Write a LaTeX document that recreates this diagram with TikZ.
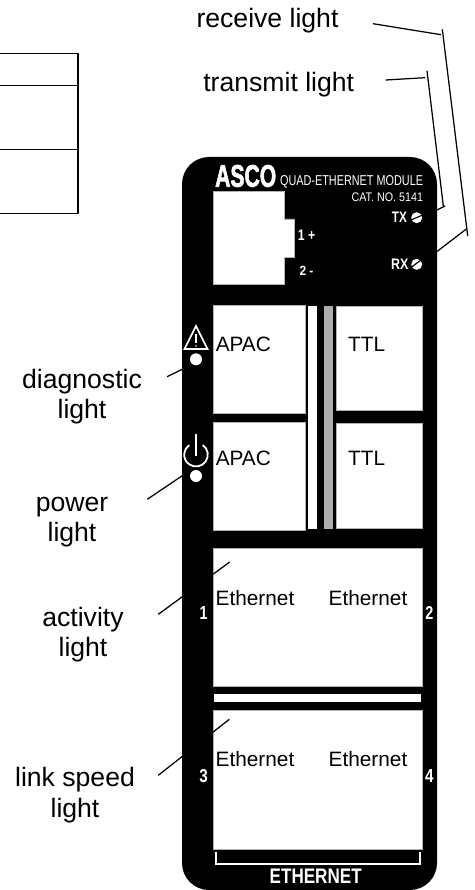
\documentclass[tikz,border=0pt]{standalone}
\usepackage{fontspec}
\usepackage{graphicx}
\setmainfont{Liberation Sans}
\newfontfamily\heavyfont[FakeBold=2.5]{Liberation Sans Bold}
\newcommand{\fitbox}[3]{\resizebox{#1pt}{#2pt}{#3}}
\tikzset{
  win/.style={fill=white,draw=gray!60,line width=0.5pt},
  leader/.style={draw=black,line width=1.25pt},
  rule/.style={draw=black,line width=1.3pt},
  callout/.style={inner sep=0pt,anchor=base,font=\fontsize{26.6pt}{30pt}\selectfont,text=black},
  slot/.style={inner sep=0pt,anchor=base,font=\fontsize{20.8pt}{24pt}\selectfont,text=black},
  plate/.style={inner sep=0pt,text=white,font=\bfseries},
  platethin/.style={inner sep=0pt,text=white},
  led/.style={circle,fill=white,inner sep=0pt,minimum size=12pt},
}
\begin{document}
\begin{tikzpicture}[x=1pt,y=-1pt]
\useasboundingbox (0,0) rectangle (474,890);
% table fragment
\draw[rule] (0,53.3) -- (78,53.3) -- (78,213.3) -- (0,213.3);
\draw[rule] (0,85.7) -- (78,85.7);
\draw[rule] (0,149.7) -- (78,149.7);
% plate
\fill[black,rounded corners=27pt] (182,157) rectangle (437,890);
% port
\draw[win] (213.3,191.7) -- (284.7,191.7) -- (284.7,219) -- (294,219) -- (294,257) -- (284.7,257) -- (284.7,284.3) -- (213.3,284.3) -- cycle;
% windows
\draw[win] (213.3,305) rectangle (305,413.3);
\draw[win] (213.3,422.3) rectangle (305,530);
\fill[white] (308.3,305.7) rectangle (317,529.3);
\fill[gray!65] (324.3,305.7) rectangle (333,528.5);
\draw[win] (336,306) rectangle (422.3,410.7);
\draw[win] (336,423.3) rectangle (422.3,528);
\draw[win] (213.3,548) rectangle (422.3,686.7);
\fill[white] (214.3,694) rectangle (421,702.3);
\draw[win] (213.3,710.7) rectangle (422.3,849.3);
% bracket
\draw[white,line width=2pt] (215.5,852) -- (215.5,864) -- (420,864) -- (420,852);
% plate texts
\node[platethin,anchor=west] (asco) at (215,176) {\fitbox{61}{21.7}{\heavyfont ASCO}};
\node[platethin,anchor=east] (quad) at (423.3,182) {\fitbox{143}{10}{QUAD-ETHERNET MODULE}};
\node[platethin,anchor=east] (cat) at (423.3,197.3) {\fitbox{71.5}{8.7}{CAT. NO. 5141}};
\node[plate,anchor=west] (tx) at (391.7,217.3) {\fitbox{15}{10.5}{TX}};
\node[plate,anchor=west] (rx) at (391,264.7) {\fitbox{17.3}{10.5}{RX}};
\node[plate,anchor=west] (one) at (297.7,235.4) {\fitbox{17.3}{10.5}{1 +}};
\node[plate,anchor=west] (two) at (299.3,271.3) {\fitbox{14}{9.3}{2 -}};
% tx/rx lamps
\node[led,minimum size=11pt] (txled) at (416.7,217.7) {};
\node[led,minimum size=11pt] (rxled) at (416.7,264.3) {};
\draw[black,line width=1.2pt] (411,220) -- (422,215.3);
\draw[black,line width=1.2pt] (411,267.5) -- (421,260);
% diagnostic icon
\draw[white,line width=1.6pt,line join=miter,fill=black] (196,326) -- (184.5,349) -- (207.5,349) -- cycle;
\draw[white,line width=1.5pt] (196,334) -- (196,343);
\fill[white] (196,346) circle[radius=0.9];
\node[led] (diagled) at (196,359.3) {};
% power icon
\coordinate (powc) at (196,454.7);
\draw[white,line width=1.8pt] (powc) ++(-55:11.8) arc[start angle=-55,end angle=235,radius=11.8];
\draw[white,line width=1.8pt] (196,433.5) -- (196,456);
\node[led] (powled) at (196,476) {};
% numbers and footer
\node[plate] (n1) at (203.7,612.7) {\fitbox{8}{13}{1}};
\node[plate] (n2) at (429.3,612.7) {\fitbox{8}{13}{2}};
\node[plate] (n3) at (203.7,776) {\fitbox{8.5}{13}{3}};
\node[plate] (n4) at (429.3,776) {\fitbox{8.5}{13}{4}};
\node[plate] (eth) at (315.7,876.7) {\fitbox{92}{14.5}{ETHERNET}};
% slot labels
\node[slot] (apac1) at (243.3,351) {APAC};
\node[slot] (apac2) at (243.3,465.7) {APAC};
\node[slot] (ttl1) at (366.7,351) {TTL};
\node[slot] (ttl2) at (366.7,465.7) {TTL};
\node[slot] (e1) at (255,605) {Ethernet};
\node[slot] (e2) at (368,605) {Ethernet};
\node[slot] (e3) at (255,766) {Ethernet};
\node[slot] (e4) at (368,766) {Ethernet};
% callouts
\node[callout] (recv) at (267.5,27.3) {receive light};
\node[callout] (trans) at (278.7,91.7) {transmit light};
\node[callout] (diag) at (82,388.3) {diagnostic};
\node[callout] (diagb) at (82,418.6) {light};
\node[callout] (pow) at (72,511) {power};
\node[callout] (powb) at (72,541.7) {light};
\node[callout] (act) at (83,626) {activity};
\node[callout] (actb) at (83,656.7) {light};
\node[callout] (link) at (75,786.7) {link speed};
\node[callout] (linkb) at (75,817.7) {light};
% leader ends
\coordinate (ra) at (373,23.7); \coordinate (rb) at (441,34.7);
\coordinate (rc) at (442.3,29.3); \coordinate (rd) at (467.7,236);
\coordinate (re) at (466,229.3); \coordinate (rf) at (437,251.5);
\coordinate (ta) at (385.7,80); \coordinate (tb) at (425,77.7);
\coordinate (tc) at (427,70.7); \coordinate (td) at (443.3,206);
\coordinate (te) at (445,206); \coordinate (tf) at (437,210);
\coordinate (da) at (167,376.7); \coordinate (db) at (182.3,369.3);
\coordinate (pa) at (147.3,499.3); \coordinate (pb) at (182.3,475.7);
\coordinate (aa) at (158.3,614.3); \coordinate (ab) at (229.7,562);
\coordinate (la) at (158.3,775.3); \coordinate (lb) at (229.3,719.3);
\draw[leader] (ra) -- (rb);
\draw[leader] (rc) -- (rd);
\draw[leader] (re) -- (rf);
\draw[leader] (ta) -- (tb);
\draw[leader] (tc) -- (td);
\draw[leader] (te) -- (tf);
\draw[leader] (da) -- (db);
\draw[leader] (pa) -- (pb);
\draw[leader] (aa) -- (ab);
\draw[leader] (la) -- (lb);
\end{tikzpicture}
\end{document}
